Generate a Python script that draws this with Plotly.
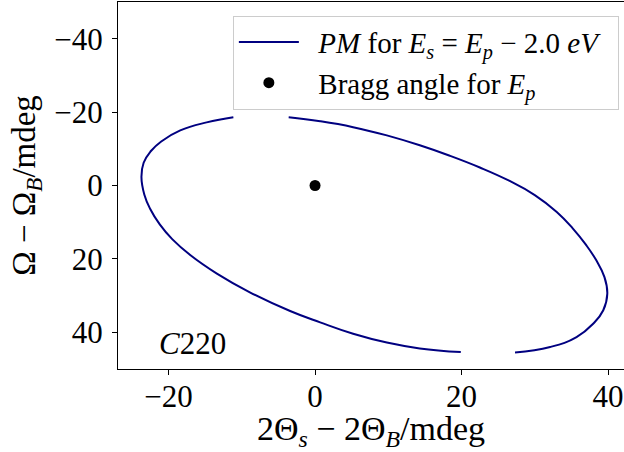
import plotly.graph_objects as go

# Phase-matching curve, split into two arcs (gaps at top and bottom)
arc_right_x = [-3.6, 0.7, 5.2, 9.8, 14.3, 18.4, 22.5, 26.5, 30.0, 33.0, 35.15,
               37.0, 38.4, 39.5, 39.9, 39.35, 38.0, 35.7, 32.1, 27.3]
arc_right_y = [-18.6, -17.5, -15.9, -13.65, -10.95, -8.1, -4.9, -1.3, 2.6, 7.2, 11.6,
               16.2, 20.4, 24.9, 29.5, 34.0, 37.6, 41.3, 44.0, 45.5]

arc_left_x = [19.9, 14.3, 9.8, 5.2, 0.7, -3.4, -8.9, -13.4, -17.0, -19.5, -21.2,
              -22.5, -23.3, -23.7, -23.4, -22.4, -21.0, -18.4, -14.8, -11.15]
arc_left_y = [45.4, 44.4, 42.8, 40.4, 37.3, 34.2, 29.1, 24.0, 19.0, 14.6, 10.6,
              6.4, 2.5, -2.3, -6.2, -9.4, -12.0, -15.0, -17.2, -18.6]

# Bragg angle point
bragg_x = [0.0]
bragg_y = [0.0]

x_ticks = [-20, 0, 20, 40]
y_ticks = [-40, -20, 0, 20, 40]

FONT = "Liberation Serif"
PAD = "\u00a0\u00a0"

pm_x = arc_right_x + [None] + arc_left_x
pm_y = arc_right_y + [None] + arc_left_y

fig = go.Figure()
fig.add_trace(go.Scatter(
    x=pm_x, y=pm_y, mode="lines", connectgaps=False,
    line=dict(color="#000080", width=2, shape="spline", smoothing=1.3),
    name=PAD + "<i>PM</i> for <i>E</i><sub><i>s</i></sub> = <i>E</i><sub><i>p</i></sub> − 2.0 <i>eV</i>" + PAD,
))
fig.add_trace(go.Scatter(
    x=bragg_x, y=bragg_y, mode="markers",
    marker=dict(color="black", size=11),
    name=PAD + "Bragg angle for <i>E</i><sub><i>p</i></sub>",
))

fig.add_annotation(
    x=-21.6, y=43.0, xref="x", yref="y", xanchor="left", yanchor="middle",
    text="<i>C</i>220", showarrow=False,
    font=dict(family=FONT, size=31, color="black"),
)

axis_common = dict(
    showgrid=False, zeroline=False, showline=True, linecolor="black", linewidth=1,
    ticks="outside", ticklen=5, tickwidth=1, tickcolor="black",
    tickfont=dict(family=FONT, size=31, color="black"),
)

fig.update_xaxes(
    range=[-26.9, 42.18], tickvals=x_ticks, mirror=True, ticklabelstandoff=-5,
    title=dict(text="2Θ<sub><i>s</i></sub> − 2Θ<sub><i>B</i></sub>/mdeg",
               font=dict(family=FONT, size=34, color="black"), standoff=11),
    **axis_common,
)
fig.update_yaxes(
    range=[50, -50], tickvals=y_ticks, ticklabelstandoff=3,
    title=dict(text="Ω − Ω<sub><i>B</i></sub>/mdeg",
               font=dict(family=FONT, size=33, color="black"), standoff=8),
    **axis_common,
)

fig.update_layout(
    width=624, height=452,
    margin=dict(l=118, r=0, t=2, b=83),
    plot_bgcolor="white", paper_bgcolor="white",
    showlegend=True,
    legend=dict(
        x=0.227, y=0.963, xanchor="left", yanchor="top",
        bgcolor="rgba(255,255,255,0.8)", bordercolor="#cccccc", borderwidth=1,
        font=dict(family=FONT, size=29, color="black"),
        itemwidth=60, tracegroupgap=0,
    ),
)

fig.write_html("out.html")
